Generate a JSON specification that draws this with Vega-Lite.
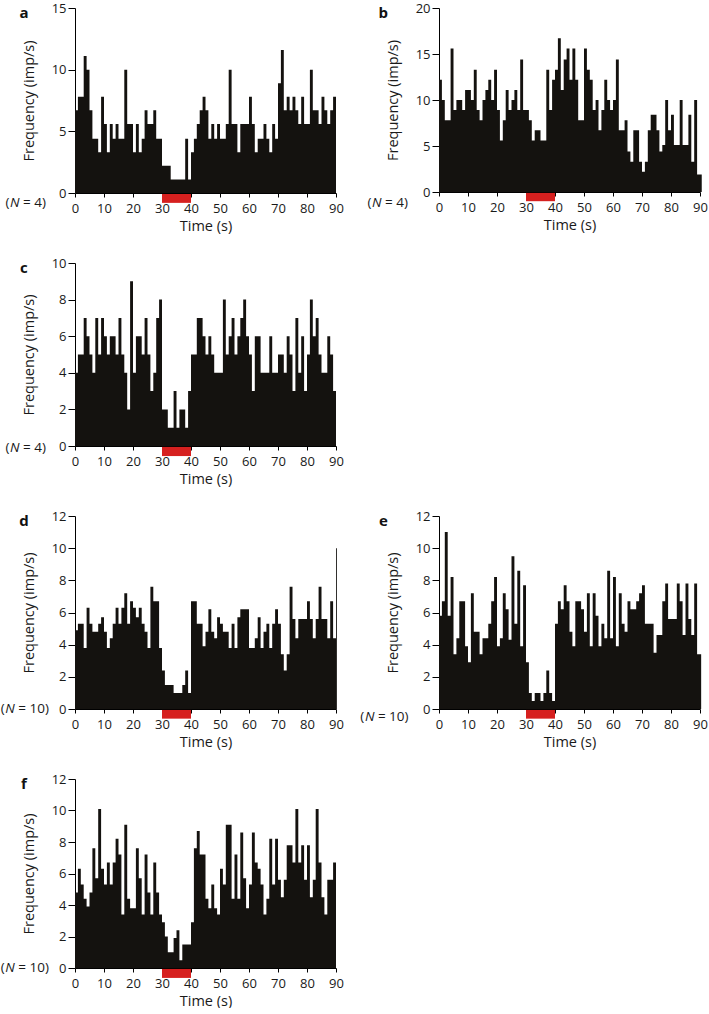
{
  "$schema": "https://vega.github.io/schema/vega-lite/v6.json",
  "padding": {"left": 0, "top": 2, "right": 0, "bottom": 0},
  "autosize": {"type": "pad"},
  "columns": 2,
  "spacing": {"row": 70, "column": 103},
  "bounds": "flush",
  "config": {
    "view": {"stroke": null},
    "font": "Open Sans",
    "axis": {"domainColor": "#000", "tickColor": "#000", "labelColor": "#1a1a1a", "titleColor": "#1a1a1a", "labelFont": "Open Sans", "titleFont": "Open Sans", "labelFontSize": 13, "titleFontSize": 14.5, "titleFontWeight": "normal", "grid": false, "domainWidth": 1, "tickWidth": 1, "labelOverlap": false, "labelBound": false},
    "axisX": {"tickSize": 4, "labelPadding": 5, "titlePadding": 4, "labelAngle": 0, "labelFlush": false, "labelOverlap": false},
    "axisY": {"tickSize": 7, "labelPadding": 2, "titlePadding": 15, "labelOverlap": false}
  },
  "datasets": {
    "a": [{"t":0,"v":6.7},{"t":1,"v":7.8},{"t":2,"v":7.8},{"t":3,"v":11.1},{"t":4,"v":10},{"t":5,"v":6.7},{"t":6,"v":4.4},{"t":7,"v":4.4},{"t":8,"v":3.3},{"t":9,"v":7.8},{"t":10,"v":5.6},{"t":11,"v":3.3},{"t":12,"v":5.6},{"t":13,"v":4.4},{"t":14,"v":5.6},{"t":15,"v":4.4},{"t":16,"v":4.4},{"t":17,"v":10},{"t":18,"v":5.6},{"t":19,"v":5.6},{"t":20,"v":3.3},{"t":21,"v":5.6},{"t":22,"v":3.3},{"t":23,"v":4.4},{"t":24,"v":6.7},{"t":25,"v":5.6},{"t":26,"v":5.6},{"t":27,"v":6.7},{"t":28,"v":4.4},{"t":29,"v":4.4},{"t":30,"v":2.2},{"t":31,"v":2.2},{"t":32,"v":2.2},{"t":33,"v":1.1},{"t":34,"v":1.1},{"t":35,"v":1.1},{"t":36,"v":1.1},{"t":37,"v":1.1},{"t":38,"v":4.4},{"t":39,"v":1.1},{"t":40,"v":3.3},{"t":41,"v":4.4},{"t":42,"v":5.6},{"t":43,"v":6.7},{"t":44,"v":7.8},{"t":45,"v":6.7},{"t":46,"v":4.4},{"t":47,"v":5.6},{"t":48,"v":4.4},{"t":49,"v":5.6},{"t":50,"v":4.4},{"t":51,"v":4.4},{"t":52,"v":5.6},{"t":53,"v":10},{"t":54,"v":5.6},{"t":55,"v":5.6},{"t":56,"v":3.3},{"t":57,"v":5.6},{"t":58,"v":5.6},{"t":59,"v":5.6},{"t":60,"v":7.8},{"t":61,"v":5.6},{"t":62,"v":3.3},{"t":63,"v":4.4},{"t":64,"v":4.4},{"t":65,"v":5.6},{"t":66,"v":4.4},{"t":67,"v":3.3},{"t":68,"v":5.6},{"t":69,"v":4.4},{"t":70,"v":8.9},{"t":71,"v":11.6},{"t":72,"v":6.7},{"t":73,"v":7.8},{"t":74,"v":6.7},{"t":75,"v":7.8},{"t":76,"v":6.7},{"t":77,"v":5.6},{"t":78,"v":7.8},{"t":79,"v":5.6},{"t":80,"v":5.6},{"t":81,"v":10},{"t":82,"v":6.7},{"t":83,"v":6.7},{"t":84,"v":5.6},{"t":85,"v":7.8},{"t":86,"v":6.7},{"t":87,"v":5.6},{"t":88,"v":6.7},{"t":89,"v":7.8},{"t":90,"v":7.8}],
    "b": [{"t":0,"v":12.2},{"t":1,"v":10},{"t":2,"v":7.8},{"t":3,"v":7.8},{"t":4,"v":15.6},{"t":5,"v":8.9},{"t":6,"v":10},{"t":7,"v":10},{"t":8,"v":8.9},{"t":9,"v":11.1},{"t":10,"v":11.1},{"t":11,"v":10},{"t":12,"v":13.3},{"t":13,"v":8.9},{"t":14,"v":7.8},{"t":15,"v":10},{"t":16,"v":11.1},{"t":17,"v":12.2},{"t":18,"v":10},{"t":19,"v":13.3},{"t":20,"v":8.9},{"t":21,"v":5.6},{"t":22,"v":7.8},{"t":23,"v":11.1},{"t":24,"v":8.9},{"t":25,"v":10},{"t":26,"v":11.1},{"t":27,"v":8.9},{"t":28,"v":14.4},{"t":29,"v":8.9},{"t":30,"v":8.9},{"t":31,"v":7.8},{"t":32,"v":5.6},{"t":33,"v":6.7},{"t":34,"v":6.7},{"t":35,"v":5.6},{"t":36,"v":5.6},{"t":37,"v":13.3},{"t":38,"v":8.9},{"t":39,"v":12.2},{"t":40,"v":13.3},{"t":41,"v":16.7},{"t":42,"v":11.1},{"t":43,"v":14.4},{"t":44,"v":15.6},{"t":45,"v":12.2},{"t":46,"v":15.6},{"t":47,"v":12.2},{"t":48,"v":7.8},{"t":49,"v":7.8},{"t":50,"v":15.6},{"t":51,"v":13.3},{"t":52,"v":12.2},{"t":53,"v":8.9},{"t":54,"v":10},{"t":55,"v":6.7},{"t":56,"v":8.9},{"t":57,"v":12.2},{"t":58,"v":10},{"t":59,"v":8.9},{"t":60,"v":10},{"t":61,"v":14.4},{"t":62,"v":6.7},{"t":63,"v":6.7},{"t":64,"v":7.8},{"t":65,"v":4.4},{"t":66,"v":3.3},{"t":67,"v":6.7},{"t":68,"v":6.7},{"t":69,"v":3.3},{"t":70,"v":2.2},{"t":71,"v":3.3},{"t":72,"v":6.7},{"t":73,"v":8.4},{"t":74,"v":8.4},{"t":75,"v":6.7},{"t":76,"v":4.4},{"t":77,"v":5.1},{"t":78,"v":10},{"t":79,"v":6.7},{"t":80,"v":8.4},{"t":81,"v":5.1},{"t":82,"v":5.1},{"t":83,"v":10},{"t":84,"v":5.1},{"t":85,"v":5.1},{"t":86,"v":8.4},{"t":87,"v":3.3},{"t":88,"v":10},{"t":89,"v":1.9},{"t":90.6,"v":1.9}],
    "c": [{"t":0,"v":4},{"t":1,"v":5},{"t":2,"v":5},{"t":3,"v":7},{"t":4,"v":6},{"t":5,"v":5},{"t":6,"v":4},{"t":7,"v":7},{"t":8,"v":5},{"t":9,"v":7},{"t":10,"v":6},{"t":11,"v":5},{"t":12,"v":6},{"t":13,"v":6},{"t":14,"v":5},{"t":15,"v":7},{"t":16,"v":5},{"t":17,"v":4},{"t":18,"v":2},{"t":19,"v":9},{"t":20,"v":4},{"t":21,"v":6},{"t":22,"v":6},{"t":23,"v":5},{"t":24,"v":7},{"t":25,"v":5},{"t":26,"v":3},{"t":27,"v":4},{"t":28,"v":7},{"t":29,"v":8},{"t":30,"v":2},{"t":31,"v":2},{"t":32,"v":1},{"t":33,"v":1},{"t":34,"v":3},{"t":35,"v":1},{"t":36,"v":2},{"t":37,"v":2},{"t":38,"v":1},{"t":39,"v":3},{"t":40,"v":5},{"t":41,"v":5},{"t":42,"v":7},{"t":43,"v":7},{"t":44,"v":6},{"t":45,"v":5},{"t":46,"v":6},{"t":47,"v":5},{"t":48,"v":4},{"t":49,"v":4},{"t":50,"v":4},{"t":51,"v":8},{"t":52,"v":5},{"t":53,"v":6},{"t":54,"v":7},{"t":55,"v":5},{"t":56,"v":6},{"t":57,"v":7},{"t":58,"v":8},{"t":59,"v":6},{"t":60,"v":5},{"t":61,"v":3},{"t":62,"v":6},{"t":63,"v":6},{"t":64,"v":4},{"t":65,"v":4},{"t":66,"v":4},{"t":67,"v":6},{"t":68,"v":4},{"t":69,"v":4},{"t":70,"v":5},{"t":71,"v":5},{"t":72,"v":4},{"t":73,"v":6},{"t":74,"v":5},{"t":75,"v":3},{"t":76,"v":7},{"t":77,"v":4},{"t":78,"v":6},{"t":79,"v":3},{"t":80,"v":5},{"t":81,"v":8},{"t":82,"v":6},{"t":83,"v":7},{"t":84,"v":5},{"t":85,"v":4},{"t":86,"v":4},{"t":87,"v":6},{"t":88,"v":5},{"t":89,"v":3},{"t":90,"v":3}],
    "d": [{"t":0,"v":4.9},{"t":1,"v":5.3},{"t":2,"v":5.3},{"t":3,"v":3.8},{"t":4,"v":6.3},{"t":5,"v":5.3},{"t":6,"v":4.8},{"t":7,"v":4.8},{"t":8,"v":5.3},{"t":9,"v":5.7},{"t":10,"v":4.8},{"t":11,"v":3.8},{"t":12,"v":4.4},{"t":13,"v":5.3},{"t":14,"v":6.3},{"t":15,"v":5.3},{"t":16,"v":6.3},{"t":17,"v":7.2},{"t":18,"v":5.3},{"t":19,"v":6.7},{"t":20,"v":6.3},{"t":21,"v":5.7},{"t":22,"v":6.3},{"t":23,"v":5.3},{"t":24,"v":4.8},{"t":25,"v":3.8},{"t":26,"v":7.6},{"t":27,"v":6.7},{"t":28,"v":6.7},{"t":29,"v":3.8},{"t":30,"v":2.4},{"t":31,"v":1.5},{"t":32,"v":1.5},{"t":33,"v":1.5},{"t":34,"v":1.0},{"t":35,"v":1.0},{"t":36,"v":1.0},{"t":37,"v":1.5},{"t":38,"v":2.4},{"t":39,"v":1.0},{"t":40,"v":6.7},{"t":41,"v":6.7},{"t":42,"v":5.3},{"t":43,"v":5.3},{"t":44,"v":3.9},{"t":45,"v":4.8},{"t":46,"v":6.2},{"t":47,"v":4.8},{"t":48,"v":4.4},{"t":49,"v":5.7},{"t":50,"v":5.3},{"t":51,"v":4.8},{"t":52,"v":4.8},{"t":53,"v":3.8},{"t":54,"v":5.3},{"t":55,"v":3.8},{"t":56,"v":5.7},{"t":57,"v":6.2},{"t":58,"v":6.2},{"t":59,"v":6.2},{"t":60,"v":3.8},{"t":61,"v":3.8},{"t":62,"v":4.4},{"t":63,"v":5.7},{"t":64,"v":3.8},{"t":65,"v":4.8},{"t":66,"v":5.3},{"t":67,"v":3.8},{"t":68,"v":5.3},{"t":69,"v":6.2},{"t":70,"v":5.3},{"t":71,"v":3.4},{"t":72,"v":2.4},{"t":73,"v":3.4},{"t":74,"v":7.6},{"t":75,"v":5.6},{"t":76,"v":4.4},{"t":77,"v":5.6},{"t":78,"v":5.6},{"t":79,"v":5.6},{"t":80,"v":6.7},{"t":81,"v":5.6},{"t":82,"v":4.4},{"t":83,"v":5.6},{"t":84,"v":7.6},{"t":85,"v":5.6},{"t":86,"v":5.6},{"t":87,"v":4.4},{"t":88,"v":6.7},{"t":89,"v":4.4},{"t":90,"v":10},{"t":90.3,"v":10}],
    "e": [{"t":0,"v":5.8},{"t":1,"v":6.7},{"t":2,"v":11.0},{"t":3,"v":5.8},{"t":4,"v":8.2},{"t":5,"v":3.4},{"t":6,"v":4.4},{"t":7,"v":6.7},{"t":8,"v":6.7},{"t":9,"v":3.9},{"t":10,"v":2.9},{"t":11,"v":7.2},{"t":12,"v":4.8},{"t":13,"v":4.8},{"t":14,"v":3.4},{"t":15,"v":4.4},{"t":16,"v":4.4},{"t":17,"v":5.3},{"t":18,"v":6.7},{"t":19,"v":8.2},{"t":20,"v":3.9},{"t":21,"v":4.4},{"t":22,"v":7.2},{"t":23,"v":6.2},{"t":24,"v":4.3},{"t":25,"v":9.5},{"t":26,"v":5.3},{"t":27,"v":8.6},{"t":28,"v":3.9},{"t":29,"v":7.7},{"t":30,"v":2.9},{"t":31,"v":1.0},{"t":32,"v":0.5},{"t":33,"v":1.0},{"t":34,"v":1.0},{"t":35,"v":0.5},{"t":36,"v":1.0},{"t":37,"v":2.4},{"t":38,"v":1.0},{"t":39,"v":0.5},{"t":40,"v":5.3},{"t":41,"v":6.7},{"t":42,"v":6.2},{"t":43,"v":7.7},{"t":44,"v":6.7},{"t":45,"v":4.8},{"t":46,"v":3.9},{"t":47,"v":6.7},{"t":48,"v":6.7},{"t":49,"v":6.2},{"t":50,"v":4.8},{"t":51,"v":7.2},{"t":52,"v":3.9},{"t":53,"v":7.2},{"t":54,"v":5.8},{"t":55,"v":3.9},{"t":56,"v":5.3},{"t":57,"v":4.4},{"t":58,"v":8.6},{"t":59,"v":4.4},{"t":60,"v":8.2},{"t":61,"v":3.9},{"t":62,"v":7.2},{"t":63,"v":5.3},{"t":64,"v":4.8},{"t":65,"v":6.7},{"t":66,"v":6.2},{"t":67,"v":6.2},{"t":68,"v":6.7},{"t":69,"v":7.2},{"t":70,"v":7.7},{"t":71,"v":5.3},{"t":72,"v":5.3},{"t":73,"v":5.3},{"t":74,"v":3.5},{"t":75,"v":4.6},{"t":76,"v":4.6},{"t":77,"v":6.7},{"t":78,"v":7.8},{"t":79,"v":5.6},{"t":80,"v":5.6},{"t":81,"v":5.6},{"t":82,"v":7.8},{"t":83,"v":6.7},{"t":84,"v":4.6},{"t":85,"v":7.8},{"t":86,"v":5.6},{"t":87,"v":4.6},{"t":88,"v":7.8},{"t":89,"v":3.4},{"t":90.4,"v":3.4}],
    "f": [{"t":0,"v":4.8},{"t":1,"v":6.3},{"t":2,"v":5.3},{"t":3,"v":4.4},{"t":4,"v":3.9},{"t":5,"v":4.8},{"t":6,"v":7.6},{"t":7,"v":5.7},{"t":8,"v":10.1},{"t":9,"v":6.3},{"t":10,"v":5.3},{"t":11,"v":6.7},{"t":12,"v":5.3},{"t":13,"v":6.7},{"t":14,"v":8.2},{"t":15,"v":7.2},{"t":16,"v":3.4},{"t":17,"v":9.1},{"t":18,"v":4.4},{"t":19,"v":3.8},{"t":20,"v":3.8},{"t":21,"v":7.6},{"t":22,"v":5.7},{"t":23,"v":3.4},{"t":24,"v":7.2},{"t":25,"v":4.8},{"t":26,"v":3.4},{"t":27,"v":6.7},{"t":28,"v":4.8},{"t":29,"v":3.4},{"t":30,"v":2.9},{"t":31,"v":2.0},{"t":32,"v":1.0},{"t":33,"v":1.0},{"t":34,"v":1.9},{"t":35,"v":2.4},{"t":36,"v":0.5},{"t":37,"v":1.5},{"t":38,"v":1.5},{"t":39,"v":1.5},{"t":40,"v":2.9},{"t":41,"v":7.6},{"t":42,"v":8.7},{"t":43,"v":7.2},{"t":44,"v":7.2},{"t":45,"v":4.4},{"t":46,"v":3.8},{"t":47,"v":5.3},{"t":48,"v":3.8},{"t":49,"v":3.4},{"t":50,"v":6.3},{"t":51,"v":5.3},{"t":52,"v":9.1},{"t":53,"v":9.1},{"t":54,"v":4.4},{"t":55,"v":7.2},{"t":56,"v":4.4},{"t":57,"v":8.6},{"t":58,"v":5.7},{"t":59,"v":3.8},{"t":60,"v":5.3},{"t":61,"v":8.6},{"t":62,"v":6.7},{"t":63,"v":6.3},{"t":64,"v":5.3},{"t":65,"v":3.4},{"t":66,"v":4.4},{"t":67,"v":8.2},{"t":68,"v":5.3},{"t":69,"v":8.2},{"t":70,"v":5.6},{"t":71,"v":4.5},{"t":72,"v":5.6},{"t":73,"v":7.8},{"t":74,"v":7.8},{"t":75,"v":6.7},{"t":76,"v":10.1},{"t":77,"v":6.7},{"t":78,"v":7.8},{"t":79,"v":5.6},{"t":80,"v":7.8},{"t":81,"v":4.5},{"t":82,"v":5.6},{"t":83,"v":10.1},{"t":84,"v":6.7},{"t":85,"v":4.5},{"t":86,"v":3.4},{"t":87,"v":5.6},{"t":88,"v":5.6},{"t":89,"v":6.7},{"t":90,"v":6.7}]
  },
  "concat": [
    {"width": 261, "height": 185, "encoding": {"x": {"type": "quantitative", "scale": {"domain": [0, 90], "nice": false}, "axis": {"values": [0,10,20,30,40,50,60,70,80,90], "labelOverlap": false, "title": "Time (s)"}}, "y": {"type": "quantitative", "scale": {"domain": [0, 15], "nice": false}, "axis": {"values": [0,5,10,15], "labelOverlap": false, "title": "Frequency (imp/s)"}}}, "layer": [
      {"data": {"name": "a"}, "mark": {"type": "area", "interpolate": "step-after", "color": "#14120f"}, "encoding": {"x": {"field": "t", "type": "quantitative"}, "y": {"field": "v", "type": "quantitative"}}},
      {"data": {"values": [{}]}, "mark": {"type": "rect", "color": "#d6201f"}, "encoding": {"x": {"datum": 30}, "x2": {"datum": 40}, "y": {"datum": -0.08}, "y2": {"datum": -0.8}}},
      {"data": {"values": [{}]}, "mark": {"type": "text", "align": "right", "baseline": "middle", "fontSize": 13.5, "color": "#1a1a1a"}, "encoding": {"x": {"datum": -10}, "y": {"datum": -0.81}, "text": {"value": "= 4)"}}},
      {"data": {"values": [{}]}, "mark": {"type": "text", "align": "right", "baseline": "middle", "fontSize": 13.5, "fontStyle": "italic", "dx": -26.4, "color": "#1a1a1a"}, "encoding": {"x": {"datum": -10}, "y": {"datum": -0.81}, "text": {"value": "N"}}},
      {"data": {"values": [{}]}, "mark": {"type": "text", "align": "right", "baseline": "middle", "fontSize": 13.5, "dx": -36.5, "color": "#1a1a1a"}, "encoding": {"x": {"datum": -10}, "y": {"datum": -0.81}, "text": {"value": "("}}},
      {"data": {"values": [{}]}, "mark": {"type": "text", "align": "center", "baseline": "middle", "fontSize": 15, "fontWeight": "bold", "dy": 5, "color": "#111"}, "encoding": {"x": {"datum": -17.6}, "y": {"datum": 15}, "text": {"value": "a"}}}
    ]},
    {"width": 261, "height": 184, "encoding": {"x": {"type": "quantitative", "scale": {"domain": [0, 90], "nice": false}, "axis": {"values": [0,10,20,30,40,50,60,70,80,90], "labelOverlap": false, "title": "Time (s)"}}, "y": {"type": "quantitative", "scale": {"domain": [0, 20], "nice": false}, "axis": {"values": [0,5,10,15,20], "labelOverlap": false, "title": "Frequency (imp/s)"}}}, "layer": [
      {"data": {"name": "b"}, "mark": {"type": "area", "interpolate": "step-after", "color": "#14120f"}, "encoding": {"x": {"field": "t", "type": "quantitative"}, "y": {"field": "v", "type": "quantitative"}}},
      {"data": {"values": [{}]}, "mark": {"type": "rect", "color": "#d6201f"}, "encoding": {"x": {"datum": 30}, "x2": {"datum": 40}, "y": {"datum": -0.1}, "y2": {"datum": -1.0}}},
      {"data": {"values": [{}]}, "mark": {"type": "text", "align": "right", "baseline": "middle", "fontSize": 13.5, "color": "#1a1a1a"}, "encoding": {"x": {"datum": -10.7}, "y": {"datum": -1.2}, "text": {"value": "= 4)"}}},
      {"data": {"values": [{}]}, "mark": {"type": "text", "align": "right", "baseline": "middle", "fontSize": 13.5, "fontStyle": "italic", "dx": -26.4, "color": "#1a1a1a"}, "encoding": {"x": {"datum": -10.7}, "y": {"datum": -1.2}, "text": {"value": "N"}}},
      {"data": {"values": [{}]}, "mark": {"type": "text", "align": "right", "baseline": "middle", "fontSize": 13.5, "dx": -36.5, "color": "#1a1a1a"}, "encoding": {"x": {"datum": -10.7}, "y": {"datum": -1.2}, "text": {"value": "("}}},
      {"data": {"values": [{}]}, "mark": {"type": "text", "align": "center", "baseline": "middle", "fontSize": 15, "fontWeight": "bold", "dy": 5, "color": "#111"}, "encoding": {"x": {"datum": -19.2}, "y": {"datum": 20}, "text": {"value": "b"}}}
    ]},
    {"width": 261, "height": 183, "encoding": {"x": {"type": "quantitative", "scale": {"domain": [0, 90], "nice": false}, "axis": {"values": [0,10,20,30,40,50,60,70,80,90], "labelOverlap": false, "title": "Time (s)"}}, "y": {"type": "quantitative", "scale": {"domain": [0, 10], "nice": false}, "axis": {"values": [0,2,4,6,8,10], "labelOverlap": false, "title": "Frequency (imp/s)"}}}, "layer": [
      {"data": {"name": "c"}, "mark": {"type": "area", "interpolate": "step-after", "color": "#14120f"}, "encoding": {"x": {"field": "t", "type": "quantitative"}, "y": {"field": "v", "type": "quantitative"}}},
      {"data": {"values": [{}]}, "mark": {"type": "rect", "color": "#d6201f"}, "encoding": {"x": {"datum": 30}, "x2": {"datum": 40}, "y": {"datum": -0.05}, "y2": {"datum": -0.55}}},
      {"data": {"values": [{}]}, "mark": {"type": "text", "align": "right", "baseline": "middle", "fontSize": 13.5, "color": "#1a1a1a"}, "encoding": {"x": {"datum": -10}, "y": {"datum": -0.1}, "text": {"value": "= 4)"}}},
      {"data": {"values": [{}]}, "mark": {"type": "text", "align": "right", "baseline": "middle", "fontSize": 13.5, "fontStyle": "italic", "dx": -26.4, "color": "#1a1a1a"}, "encoding": {"x": {"datum": -10}, "y": {"datum": -0.1}, "text": {"value": "N"}}},
      {"data": {"values": [{}]}, "mark": {"type": "text", "align": "right", "baseline": "middle", "fontSize": 13.5, "dx": -36.5, "color": "#1a1a1a"}, "encoding": {"x": {"datum": -10}, "y": {"datum": -0.1}, "text": {"value": "("}}},
      {"data": {"values": [{}]}, "mark": {"type": "text", "align": "center", "baseline": "middle", "fontSize": 15, "fontWeight": "bold", "dy": 5, "color": "#111"}, "encoding": {"x": {"datum": -17.6}, "y": {"datum": 10}, "text": {"value": "c"}}}
    ]},
    {"width": 261, "height": 183, "data": {"values": [{}]}, "mark": {"type": "text", "opacity": 0}, "encoding": {"text": {"value": ""}}},
    {"width": 261, "height": 193, "encoding": {"x": {"type": "quantitative", "scale": {"domain": [0, 90], "nice": false}, "axis": {"values": [0,10,20,30,40,50,60,70,80,90], "labelOverlap": false, "title": "Time (s)"}}, "y": {"type": "quantitative", "scale": {"domain": [0, 12], "nice": false}, "axis": {"values": [0,2,4,6,8,10,12], "labelOverlap": false, "title": "Frequency (imp/s)"}}}, "layer": [
      {"data": {"name": "d"}, "mark": {"type": "area", "interpolate": "step-after", "color": "#14120f"}, "encoding": {"x": {"field": "t", "type": "quantitative"}, "y": {"field": "v", "type": "quantitative"}}},
      {"data": {"values": [{}]}, "mark": {"type": "rect", "color": "#d6201f"}, "encoding": {"x": {"datum": 30}, "x2": {"datum": 40}, "y": {"datum": -0.06}, "y2": {"datum": -0.6}}},
      {"data": {"values": [{}]}, "mark": {"type": "text", "align": "right", "baseline": "middle", "fontSize": 13.5, "color": "#1a1a1a"}, "encoding": {"x": {"datum": -9}, "y": {"datum": 0}, "text": {"value": "= 10)"}}},
      {"data": {"values": [{}]}, "mark": {"type": "text", "align": "right", "baseline": "middle", "fontSize": 13.5, "fontStyle": "italic", "dx": -34.1, "color": "#1a1a1a"}, "encoding": {"x": {"datum": -9}, "y": {"datum": 0}, "text": {"value": "N"}}},
      {"data": {"values": [{}]}, "mark": {"type": "text", "align": "right", "baseline": "middle", "fontSize": 13.5, "dx": -44.2, "color": "#1a1a1a"}, "encoding": {"x": {"datum": -9}, "y": {"datum": 0}, "text": {"value": "("}}},
      {"data": {"values": [{}]}, "mark": {"type": "text", "align": "center", "baseline": "middle", "fontSize": 15, "fontWeight": "bold", "dy": 5, "color": "#111"}, "encoding": {"x": {"datum": -17.6}, "y": {"datum": 12}, "text": {"value": "d"}}}
    ]},
    {"width": 261, "height": 193, "encoding": {"x": {"type": "quantitative", "scale": {"domain": [0, 90], "nice": false}, "axis": {"values": [0,10,20,30,40,50,60,70,80,90], "labelOverlap": false, "title": "Time (s)"}}, "y": {"type": "quantitative", "scale": {"domain": [0, 12], "nice": false}, "axis": {"values": [0,2,4,6,8,10,12], "labelOverlap": false, "title": "Frequency (imp/s)"}}}, "layer": [
      {"data": {"name": "e"}, "mark": {"type": "area", "interpolate": "step-after", "color": "#14120f"}, "encoding": {"x": {"field": "t", "type": "quantitative"}, "y": {"field": "v", "type": "quantitative"}}},
      {"data": {"values": [{}]}, "mark": {"type": "rect", "color": "#d6201f"}, "encoding": {"x": {"datum": 30}, "x2": {"datum": 40}, "y": {"datum": -0.06}, "y2": {"datum": -0.6}}},
      {"data": {"values": [{}]}, "mark": {"type": "text", "align": "right", "baseline": "middle", "fontSize": 13.5, "color": "#1a1a1a"}, "encoding": {"x": {"datum": -10.5}, "y": {"datum": -0.5}, "text": {"value": "= 10)"}}},
      {"data": {"values": [{}]}, "mark": {"type": "text", "align": "right", "baseline": "middle", "fontSize": 13.5, "fontStyle": "italic", "dx": -34.1, "color": "#1a1a1a"}, "encoding": {"x": {"datum": -10.5}, "y": {"datum": -0.5}, "text": {"value": "N"}}},
      {"data": {"values": [{}]}, "mark": {"type": "text", "align": "right", "baseline": "middle", "fontSize": 13.5, "dx": -44.2, "color": "#1a1a1a"}, "encoding": {"x": {"datum": -10.5}, "y": {"datum": -0.5}, "text": {"value": "("}}},
      {"data": {"values": [{}]}, "mark": {"type": "text", "align": "center", "baseline": "middle", "fontSize": 15, "fontWeight": "bold", "dy": 5, "color": "#111"}, "encoding": {"x": {"datum": -19.2}, "y": {"datum": 12}, "text": {"value": "e"}}}
    ]},
    {"width": 261, "height": 189, "encoding": {"x": {"type": "quantitative", "scale": {"domain": [0, 90], "nice": false}, "axis": {"values": [0,10,20,30,40,50,60,70,80,90], "labelOverlap": false, "title": "Time (s)"}}, "y": {"type": "quantitative", "scale": {"domain": [0, 12], "nice": false}, "axis": {"values": [0,2,4,6,8,10,12], "labelOverlap": false, "title": "Frequency (imp/s)"}}}, "layer": [
      {"data": {"name": "f"}, "mark": {"type": "area", "interpolate": "step-after", "color": "#14120f"}, "encoding": {"x": {"field": "t", "type": "quantitative"}, "y": {"field": "v", "type": "quantitative"}}},
      {"data": {"values": [{}]}, "mark": {"type": "rect", "color": "#d6201f"}, "encoding": {"x": {"datum": 30}, "x2": {"datum": 40}, "y": {"datum": -0.06}, "y2": {"datum": -0.63}}},
      {"data": {"values": [{}]}, "mark": {"type": "text", "align": "right", "baseline": "middle", "fontSize": 13.5, "color": "#1a1a1a"}, "encoding": {"x": {"datum": -9}, "y": {"datum": 0}, "text": {"value": "= 10)"}}},
      {"data": {"values": [{}]}, "mark": {"type": "text", "align": "right", "baseline": "middle", "fontSize": 13.5, "fontStyle": "italic", "dx": -34.1, "color": "#1a1a1a"}, "encoding": {"x": {"datum": -9}, "y": {"datum": 0}, "text": {"value": "N"}}},
      {"data": {"values": [{}]}, "mark": {"type": "text", "align": "right", "baseline": "middle", "fontSize": 13.5, "dx": -44.2, "color": "#1a1a1a"}, "encoding": {"x": {"datum": -9}, "y": {"datum": 0}, "text": {"value": "("}}},
      {"data": {"values": [{}]}, "mark": {"type": "text", "align": "center", "baseline": "middle", "fontSize": 15, "fontWeight": "bold", "dy": 5, "color": "#111"}, "encoding": {"x": {"datum": -17.6}, "y": {"datum": 12}, "text": {"value": "f"}}}
    ]}
  ]
}
